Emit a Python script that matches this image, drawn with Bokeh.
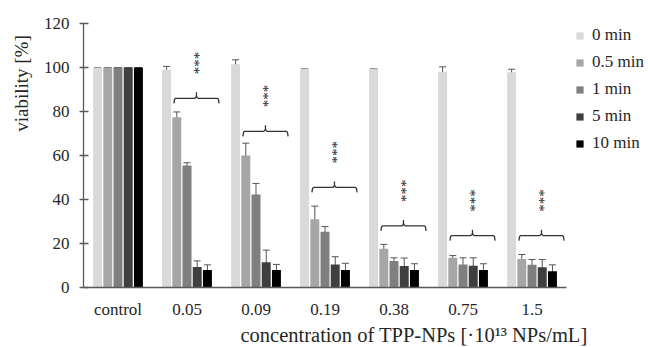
import math
from bokeh.plotting import figure
from bokeh.models import (ColumnDataSource, Range1d, Whisker, Legend,
                          LegendItem, Title, TeeHead, FixedTicker)
from bokeh.core.properties import value
from bokeh.embed import file_html
from bokeh.resources import INLINE

# ---------------- data ----------------
categories = ["control", "0.05", "0.09", "0.19", "0.38", "0.75", "1.5"]
series = ["0 min", "0.5 min", "1 min", "5 min", "10 min"]
colors = ["#d9d9d9", "#a6a6a6", "#7f7f7f", "#3f3f3f", "#000000"]

v_0min = [100, 99.0, 101.5, 99.5, 99.5, 98.0, 97.8]
v_05min = [100, 77.4, 60.0, 31.0, 17.6, 13.5, 13.0]
v_1min = [100, 55.5, 42.3, 25.3, 12.0, 10.5, 10.3]
v_5min = [100, 9.3, 11.5, 10.5, 9.8, 9.9, 9.2]
v_10min = [100, 8.0, 8.0, 8.0, 8.0, 8.0, 7.4]

e_0min = [0, 1.5, 2.0, 0, 0, 2.3, 1.4]
e_05min = [0, 2.4, 5.6, 6.0, 2.0, 1.0, 2.0]
e_1min = [0, 1.2, 5.0, 2.4, 1.5, 3.0, 2.4]
e_5min = [0, 2.8, 5.5, 3.5, 3.6, 3.6, 3.5]
e_10min = [0, 2.3, 2.5, 3.0, 2.8, 2.8, 2.9]

brace_level = [None, 86, 71, 45.5, 28, 23.6, 23.6]
significance = ["", "***", "***", "***", "***", "***", "***"]

y_ticks = [0, 20, 40, 60, 80, 100, 120]
x_title = "concentration of TPP-NPs [\u00b710\u00b9\u00b3 NPs/mL]"
y_title = "viability  [%]"

values = [v_0min, v_05min, v_1min, v_5min, v_10min]
errors = [e_0min, e_05min, e_1min, e_5min, e_10min]

FONT = "Liberation Serif"

# category slots 0..n on a numeric axis; extra room on the right holds the legend
n = len(categories)
centers = [i + 0.5 for i in range(n)]
x_end = n + 1.159

# ---------------- figure ----------------
p = figure(x_range=Range1d(0, x_end),
           y_range=Range1d(0, 120),
           width=646, height=346,
           output_backend="svg", toolbar_location=None,
           min_border_left=83, min_border_right=0,
           min_border_top=23, min_border_bottom=59)
p.outline_line_color = None
p.xgrid.visible = False
p.ygrid.visible = False
p.background_fill_color = "white"

step = 0.148
bar_w = 0.13
renderers = []
for k, (name, col) in enumerate(zip(series, colors)):
    off = (k - 2) * step
    xs = [c + off for c in centers]
    vals = values[k]
    errs = errors[k]
    src = ColumnDataSource(dict(
        x=xs, top=vals,
        upper=[v + e for v, e in zip(vals, errs)],
        lower=[v - e for v, e in zip(vals, errs)],
    ))
    r = p.vbar(x="x", top="top", width=bar_w, source=src,
               fill_color=col, line_color=None)
    renderers.append(r)
    w = Whisker(base="x", upper="upper", lower="lower", source=src,
                line_color="#555555", line_width=1,
                upper_head=TeeHead(size=7, line_color="#555555", line_width=1),
                lower_head=TeeHead(size=7, line_color="#555555", line_width=1))
    p.add_layout(w)

# braces + significance marks
b_left, b_right, b_mid = -0.19, 0.465, 0.137
drop, tip, curve = 2.3, 2.7, 0.025
bx, by, sx, sy, st = [], [], [], [], []
for i, lvl in enumerate(brace_level):
    if lvl is None:
        continue
    c = centers[i]
    xl, xr, xm = c + b_left, c + b_right, c + b_mid
    bx.append([xl, xl + curve * 0.4, xl + curve, xm - curve, xm - curve * 0.3, xm,
               xm, xm, xm + curve * 0.3, xm + curve, xr - curve, xr - curve * 0.4, xr])
    by.append([lvl - drop, lvl - 0.4, lvl, lvl, lvl + 0.4, lvl + 1.2,
               lvl + tip, lvl + 1.2, lvl + 0.4, lvl, lvl, lvl - 0.4, lvl - drop])
    sx.append(xm)
    sy.append(lvl + 16)
    st.append(significance[i])

p.multi_line(xs=bx, ys=by, line_color="#333333", line_width=1.3)
p.text(x=sx, y=sy, text=st, angle=math.pi / 2, text_align="center",
       text_baseline="middle", text_font=value(FONT), text_font_size="15px",
       text_color="#222222", x_offset=3)

# axes
p.yaxis.ticker = FixedTicker(ticks=y_ticks)
p.yaxis.minor_tick_line_color = None
p.yaxis.major_tick_in = 5
p.yaxis.major_tick_out = 4
p.yaxis.major_label_standoff = 10
p.xaxis.ticker = FixedTicker(ticks=centers)
p.xaxis.major_label_overrides = {c: lab for c, lab in zip(centers, categories)}
p.xaxis.bounds = (0, n)
p.xaxis.minor_tick_line_color = None
p.xaxis.major_tick_in = 0
p.xaxis.major_tick_out = 0
p.xaxis.major_label_standoff = 12
for ax in (p.xaxis, p.yaxis):
    ax.axis_line_color = "#595959"
    ax.axis_line_width = 1.3
    ax.major_tick_line_color = "#595959"
    ax.major_tick_line_width = 1.3
    ax.major_label_text_font = FONT
    ax.major_label_text_font_size = "17px"
    ax.major_label_text_color = "#262626"

# axis titles
p.add_layout(Title(text=x_title, align="left", offset=157, standoff=0,
                   text_font=FONT, text_font_size="20.5px", text_font_style="normal",
                   text_color="#262626"), "below")
p.add_layout(Title(text=y_title, align="right", offset=7, standoff=14,
                   vertical_align="top",
                   text_font=FONT, text_font_size="19px", text_font_style="normal",
                   text_color="#262626"), "left")

# legend (inside the frame's spare room at the right)
legend = Legend(items=[LegendItem(label=s, renderers=[r]) for s, r in zip(series, renderers)],
                location=(492, 134), orientation="vertical",
                border_line_color=None, background_fill_alpha=0,
                padding=0, margin=0, spacing=7,
                glyph_width=9, glyph_height=9, label_height=16, label_standoff=8,
                label_text_font=FONT, label_text_font_size="17px",
                label_text_color="#262626")
p.add_layout(legend)

open("out.html", "w").write(file_html(p, INLINE))
